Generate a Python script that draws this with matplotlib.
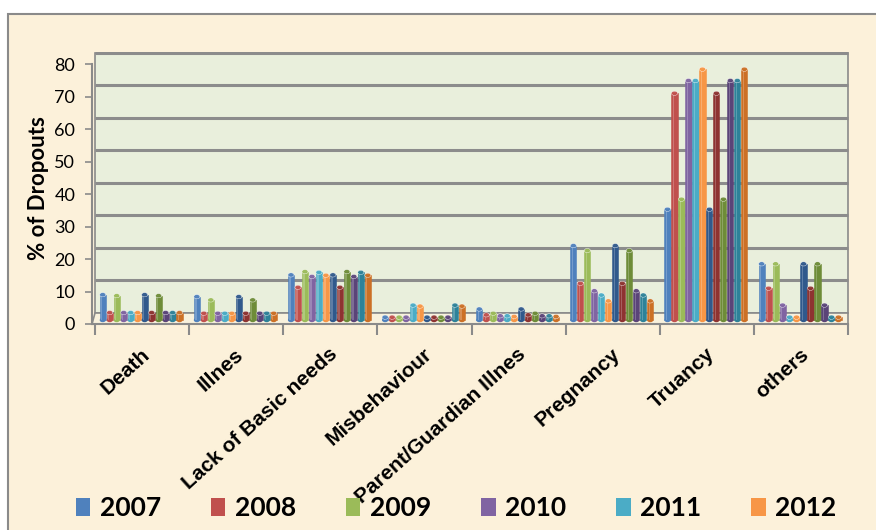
import matplotlib
matplotlib.use("Agg")
import matplotlib.pyplot as plt
from matplotlib.patches import Rectangle, Polygon, Ellipse, Patch

# data (% of dropouts per reason and year)
categories = ["Death", "Illnes", "Lack of Basic needs", "Misbehaviour",
              "Parent/Guardian Illnes", "Pregnancy", "Truancy", "others"]
years = ["2007", "2008", "2009", "2010", "2011", "2012"]
v2007 = [9.0, 8.4, 15.1, 2.1, 4.6, 24.1, 35.3, 18.5]
v2008 = [3.5, 3.3, 11.3, 2.1, 2.8, 12.5, 71.0, 11.0]
v2009 = [8.7, 7.4, 16.1, 2.1, 3.3, 22.6, 38.4, 18.5]
v2010 = [3.5, 3.3, 14.6, 2.1, 2.5, 10.2, 74.9, 5.8]
v2011 = [3.5, 3.3, 15.9, 5.8, 2.5, 8.9, 74.9, 2.1]
v2012 = [3.5, 3.3, 15.0, 5.5, 2.3, 7.1, 78.4, 2.1]
series = [v2007, v2008, v2009, v2010, v2011, v2012]

colors = ["#4f81bd", "#c0504d", "#9bbb59", "#8064a2", "#4bacc6", "#f79646"]
dark = ["#30598c", "#8e3331", "#6e8c38", "#5a4478", "#2e8299", "#cc7026"]

W, H = 876, 530
fig = plt.figure(figsize=(W / 100, H / 100), dpi=100, facecolor="white")

# outer chart frame with parchment fill
fig.patches.append(Rectangle((8 / W, -0.05), 1.0, (H - 14) / H + 0.05,
                             transform=fig.transFigure, facecolor="#fcf1da",
                             edgecolor="#8a8a8a", lw=1.5, zorder=-5))

ax = fig.add_axes([92 / W, (H - 324) / H, (852 - 92) / W, (324 - 52) / H])
ax.set_facecolor("none")
ax.set_xlim(-0.032, 8.042)
ax.set_ylim(0, 83.7)

depth = 3.4      # 3D wall offset in axis units
wall_r = 8.0
# back wall
ax.add_patch(Rectangle((0, depth), wall_r, 80, facecolor="#e9efdc",
                       edgecolor="#8a8a8a", lw=1.2, zorder=1))
# floor
ax.add_patch(Polygon([(-0.032, 0), (wall_r, 0), (wall_r, depth), (0, depth)],
                     closed=True, facecolor="#f8f1dd", edgecolor="#8a8a8a",
                     lw=1.2, zorder=1))
for v in range(10, 90, 10):
    ax.hlines(v + depth, 0, wall_r, color="#8c8c8c", lw=2.2, zorder=2)

# cylinders
bw = 0.0742
base = 1.2
for i in range(len(categories)):
    for j in range(12):
        s = j % 6
        c = colors[s] if j < 6 else dark[s]
        val = series[s][i]
        x = i + 0.045 + (j + 0.5) * bw
        ax.bar(x, val - base, bottom=base, width=bw * 0.88, color=c,
               edgecolor=c, lw=0.4, zorder=3)
        ax.bar(x - bw * 0.14, val - base, bottom=base, width=bw * 0.18,
               color="white", alpha=0.22, lw=0, zorder=4)
        ax.add_patch(Ellipse((x, base), bw * 0.88, 1.3, facecolor=c,
                             edgecolor="none", zorder=3))
        ax.add_patch(Ellipse((x, val), bw * 0.88, 1.3, facecolor=c,
                             edgecolor="#ffffff", lw=0.3, alpha=0.95, zorder=5))

# axes styling
for sp in ["top", "right"]:
    ax.spines[sp].set_visible(False)
ax.spines["left"].set_bounds(0, 80)
ax.spines["bottom"].set_bounds(-0.032, wall_r)
for sp in ["left", "bottom"]:
    ax.spines[sp].set_color("#8a8a8a")
    ax.spines[sp].set_linewidth(1.5)

ax.set_yticks(range(0, 90, 10))
ax.tick_params(axis="y", length=5, width=1.2, color="#8a8a8a", pad=7,
               labelsize=13, labelcolor="black")
for t in ax.get_yticklabels():
    t.set_family("Lato")

ax.set_xticks(range(0, 9))
ax.set_xticklabels([])
ax.tick_params(axis="x", length=8, width=1.5, color="#8a8a8a")

for i, name in enumerate(categories):
    ax.text(i + 0.55, -8.5, name, rotation=42, rotation_mode="anchor",
            ha="right", va="center", fontsize=15, fontweight="bold",
            family="Liberation Sans", clip_on=False)

ax.set_ylabel("% of Dropouts", fontsize=16, fontweight="bold",
              family="Lato", labelpad=4)

handles = [Patch(facecolor=c, edgecolor="none") for c in colors]
fig.legend(handles, years, loc="center", bbox_to_anchor=(456 / W, 1 - 508 / H),
           ncol=6, frameon=False, handlelength=0.55, handleheight=0.7,
           handletextpad=0.35, columnspacing=1.9,
           prop={"family": "Lato", "weight": "bold", "size": 19})

fig.savefig("out.png", dpi=100, facecolor=fig.get_facecolor())
